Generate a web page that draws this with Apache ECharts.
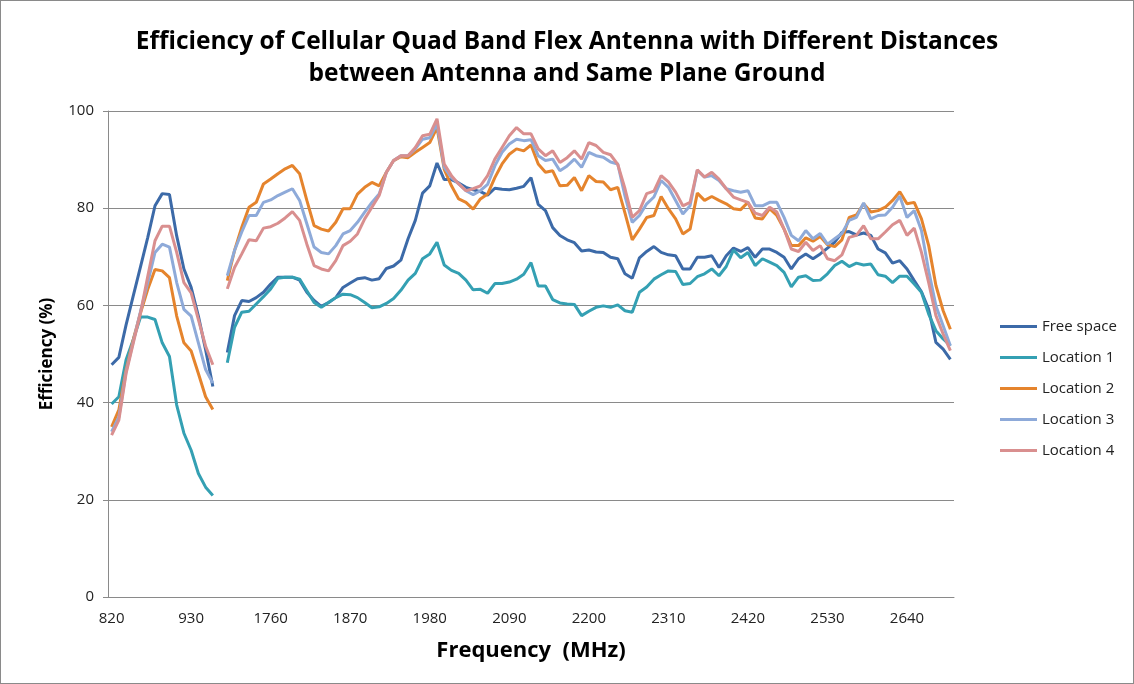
<!DOCTYPE html>
<html>
<head>
<meta charset="utf-8">
<title>Efficiency of Cellular Quad Band Flex Antenna</title>
<script src="https://cdn.jsdelivr.net/npm/echarts@6/dist/echarts.min.js"></script>
<style>
  html, body { margin: 0; padding: 0; background: #fff; }
  #chart { width: 1134px; height: 684px; box-sizing: border-box; border: 1px solid #8a8a8a; }
</style>
</head>
<body>
<div id="chart"></div>
<script>
// frequency categories (MHz), low band and high band, with an empty slot between
const freqLow = [820, 830, 840, 850, 860, 870, 880, 890, 900, 910, 920, 930, 940, 950, 960];
const freqHigh = [
  1700, 1710, 1720, 1730, 1740, 1750, 1760, 1770, 1780, 1790,
  1800, 1810, 1820, 1830, 1840, 1850, 1860, 1870, 1880, 1890,
  1900, 1910, 1920, 1930, 1940, 1950, 1960, 1970, 1980, 1990,
  2000, 2010, 2020, 2030, 2040, 2050, 2060, 2070, 2080, 2090,
  2100, 2110, 2120, 2130, 2140, 2150, 2160, 2170, 2180, 2190,
  2200, 2210, 2220, 2230, 2240, 2250, 2260, 2270, 2280, 2290,
  2300, 2310, 2320, 2330, 2340, 2350, 2360, 2370, 2380, 2390,
  2400, 2410, 2420, 2430, 2440, 2450, 2460, 2470, 2480, 2490,
  2500, 2510, 2520, 2530, 2540, 2550, 2560, 2570, 2580, 2590,
  2600, 2610, 2620, 2630, 2640, 2650, 2660, 2670, 2680, 2690,
  2700
];

// efficiency (%)
const freeSpaceLow = [47.8, 49.3, 56, 62, 68, 74, 80.5, 83, 82.8, 74.3, 67.5, 63.7, 57.8, 50.9, 43.3];
const freeSpaceHigh = [
  50.3, 57.9, 61, 60.8, 61.6, 62.7, 64.4, 65.8, 65.8, 65.8, 65.2, 62.7, 61, 59.8, 60.6, 61.6, 63.7, 64.6,
  65.5, 65.7, 65.2, 65.5, 67.6, 68.1, 69.3, 73.7, 77.5, 83.1, 84.6, 89.3, 85.9, 85.9, 85.2, 84.3, 83.8,
  83.4, 82.7, 84.1, 83.9, 83.8, 84.1, 84.5, 86.3, 80.8, 79.5, 76, 74.4, 73.5, 72.9, 71.2, 71.4, 71,
  70.9, 69.9, 69.6, 66.5, 65.6, 69.8, 71.1, 72.1, 70.9, 70.4, 70.2, 67.5, 67.5, 69.9, 69.9, 70.2, 67.8,
  70.2, 71.8, 71.1, 71.9, 69.9, 71.6, 71.6, 70.9, 69.9, 67.5, 69.6, 70.6, 69.6, 70.6, 71.8, 73,
  75, 75.2, 74.5, 74.9, 74.4, 71.6, 70.8, 68.7, 69.2, 67.5, 65.1, 62.8, 59.2, 52.4, 51, 48.9
];

const location1Low = [39.7, 41.2, 48.8, 53, 57.6, 57.6, 57.1, 52.3, 49.5, 39.5, 33.7, 30.2, 25.4, 22.6, 20.9];
const location1High = [
  48.2, 55.5, 58.6, 58.8, 60.3, 61.8, 63.4, 65.6, 65.8, 65.8, 65.4, 63, 60.6, 59.6, 60.6, 61.6, 62.3, 62.2,
  61.6, 60.6, 59.5, 59.7, 60.4, 61.4, 63.1, 65.2, 66.6, 69.6, 70.6, 73, 68.3, 67.2, 66.6, 65.2, 63.2,
  63.3, 62.5, 64.5, 64.5, 64.8, 65.4, 66.4, 68.8, 64, 64, 61.2, 60.5, 60.3, 60.2, 57.9, 58.8, 59.6,
  59.9, 59.6, 60.1, 58.9, 58.6, 62.7, 63.8, 65.4, 66.3, 67.1, 67, 64.3, 64.5, 65.9, 66.5, 67.5, 66.1,
  68, 71.4, 69.8, 70.9, 68.2, 69.6, 68.9, 68.2, 66.8, 63.8, 65.8, 66.1, 65.1, 65.2, 66.5, 68.2,
  69.1, 68, 68.7, 68.3, 68.5, 66.3, 66, 64.7, 66, 66, 64.4, 62.7, 58.2, 54.8, 53.1, 51.7
];

const location2Low = [35, 38.5, 46.8, 53, 58.5, 63.3, 67.4, 67.1, 65.7, 57.8, 52.3, 50.6, 46, 41.2, 38.6];
const location2High = [
  65.1, 71.3, 76.1, 80.2, 81.2, 85, 86, 87.1, 88.1, 88.8, 87.1, 81.6, 76.4, 75.7, 75.3, 77.1, 79.9, 79.9,
  82.9, 84.3, 85.3, 84.6, 87.4, 89.8, 90.6, 90.4, 91.5, 92.5, 93.5, 96.6, 88, 84.6, 81.9, 81.2, 79.8,
  81.9, 82.9, 86.3, 89.1, 91.1, 92.2, 91.8, 93, 89.1, 87.4, 87.7, 84.6, 84.7, 86.3, 83.6, 86.7, 85.5,
  85.4, 83.8, 84.3, 79, 73.5, 75.7, 78.1, 78.5, 82.4, 79.9, 77.8, 74.7, 75.7, 83.1, 81.6, 82.4, 81.6,
  80.9, 79.9, 79.7, 81.2, 78, 77.8, 79.9, 78.5, 75.7, 72.3, 72.3, 73.9, 73.2, 74.2, 72.5, 72.1,
  73.5, 78.1, 78.6, 80.9, 79.2, 79.5, 80.2, 81.6, 83.4, 80.9, 81.2, 77.8, 72.3, 64.1, 58.9, 55.1
];

const location3Low = [34, 37, 46.4, 52.6, 58.8, 64.7, 70.9, 72.6, 72, 64.7, 59.2, 57.8, 52.3, 46.8, 44];
const location3High = [
  66.1, 71.3, 75.1, 78.5, 78.5, 81.2, 81.7, 82.6, 83.3, 84, 81.6, 76.8, 72, 70.9, 70.6, 72.3, 74.7, 75.4,
  77.1, 79.2, 81.2, 82.9, 87.4, 89.8, 90.8, 90.8, 92.2, 94.2, 94.5, 97.3, 88.4, 86.3, 85, 83.6, 82.8,
  83.6, 84.9, 88.7, 91.5, 93.2, 94.2, 93.9, 94.1, 90.8, 89.8, 90.1, 87.7, 88.7, 90.1, 88.4, 91.5, 90.8,
  90.5, 89.5, 89.1, 82.5, 77.1, 78.5, 80.9, 82.3, 85.7, 84.3, 81.6, 78.8, 80.5, 87.8, 86.4, 86.7, 85.7,
  84, 83.6, 83.3, 83.6, 80.5, 80.5, 81.2, 81.2, 78.1, 74.4, 73.3, 75.4, 73.7, 74.8, 72.6, 73.7,
  74.8, 77.5, 78.1, 81.1, 77.8, 78.5, 78.6, 80.2, 82.5, 78.1, 79.5, 75.4, 67.1, 59.9, 55.8, 51.7
];

const location4Low = [33.3, 36.4, 46, 52.3, 58.5, 66, 73.3, 76.3, 76.3, 70.9, 64.7, 62.6, 57.1, 51.6, 47.8];
const location4High = [
  63.4, 67.8, 70.6, 73.5, 73.3, 75.9, 76.2, 76.9, 78, 79.3, 77.5, 72.6, 68.2, 67.5, 67.1, 69.2, 72.3, 73.2,
  74.7, 77.8, 80.2, 82.6, 87.4, 89.8, 90.8, 90.8, 92.5, 94.9, 95.2, 98.4, 89.1, 86.7, 85, 83.6, 84,
  84.6, 86.7, 90.1, 92.5, 94.9, 96.6, 95.3, 95.3, 92.2, 90.8, 91.8, 89.4, 90.4, 91.8, 90.1, 93.5, 92.9,
  91.5, 91, 89, 84, 78.1, 79.5, 83, 83.5, 86.7, 85.4, 83.3, 80.5, 81.2, 87.9, 86.4, 87.4, 86,
  84, 82.3, 81.7, 81.2, 79, 78.5, 80.2, 79.2, 75.7, 71.6, 71.1, 73, 71.3, 72.3, 69.6, 69.2,
  70.4, 74, 74.4, 76.4, 73.7, 73.7, 75.1, 76.6, 77.5, 74.4, 75.9, 70.9, 64.7, 57.9, 54.1, 50.7
];

const seriesNames = ['Free space', 'Location 1', 'Location 2', 'Location 3', 'Location 4'];
const seriesColors = ['#3c6aa8', '#34a0b3', '#e5842d', '#8eaad9', '#d98f8f'];
const yTicks = [0, 20, 40, 60, 80, 100];

// one empty category between the two bands breaks the lines
const categories = [...freqLow.map(String), '', ...freqHigh.map(String)];
const join = (low, high) => [...low, null, ...high];
const seriesData = [
  join(freeSpaceLow, freeSpaceHigh),
  join(location1Low, location1High),
  join(location2Low, location2High),
  join(location3Low, location3High),
  join(location4Low, location4High)
];

const font = '"Open Sans", "Liberation Sans", sans-serif';
const chart = echarts.init(document.getElementById('chart'), null, { renderer: 'canvas' });

chart.setOption({
  animation: false,
  backgroundColor: '#fff',
  title: {
    text: 'Efficiency of Cellular Quad Band Flex Antenna with Different Distances\nbetween Antenna and Same Plane Ground',
    left: 'center',
    top: 20,
    textStyle: { fontFamily: font, fontSize: 24.5, fontWeight: 'bold', color: '#000', lineHeight: 32 }
  },
  legend: {
    orient: 'vertical',
    left: 999,
    top: 318,
    padding: 0,
    icon: 'rect',
    itemWidth: 37,
    itemHeight: 3,
    itemGap: 16,
    textStyle: { fontFamily: font, fontSize: 15, color: '#222' },
    data: seriesNames
  },
  grid: { left: 107, right: 179, top: 110, bottom: 86, containLabel: false },
  xAxis: {
    type: 'category',
    data: categories,
    boundaryGap: true,
    name: 'Frequency  (MHz)',
    nameLocation: 'middle',
    nameGap: 43,
    nameTextStyle: { fontFamily: font, fontSize: 22, fontWeight: 'bold', color: '#000' },
    axisLine: { lineStyle: { color: '#8a8a8a', width: 1 } },
    axisTick: { show: false },
    axisLabel: { interval: 10, margin: 14, fontFamily: font, fontSize: 15, color: '#222' },
    splitLine: { show: false }
  },
  yAxis: {
    type: 'value',
    min: yTicks[0],
    max: yTicks[yTicks.length - 1],
    interval: 20,
    name: 'Efficiency (%)',
    nameLocation: 'middle',
    nameGap: 52,
    nameRotate: 90,
    nameTextStyle: { fontFamily: font, fontSize: 17, fontWeight: 'bold', color: '#000' },
    axisLine: { show: true, lineStyle: { color: '#8a8a8a', width: 1 } },
    axisTick: { show: true, length: 5, lineStyle: { color: '#8a8a8a' } },
    axisLabel: { margin: 14, fontFamily: font, fontSize: 15, color: '#222' },
    splitLine: { lineStyle: { color: '#8a8a8a', width: 1 } }
  },
  series: seriesNames.map((name, k) => ({
    name,
    type: 'line',
    data: seriesData[k],
    symbol: 'none',
    connectNulls: false,
    color: seriesColors[k],
    lineStyle: { width: 3, color: seriesColors[k] }
  }))
});
</script>
</body>
</html>
